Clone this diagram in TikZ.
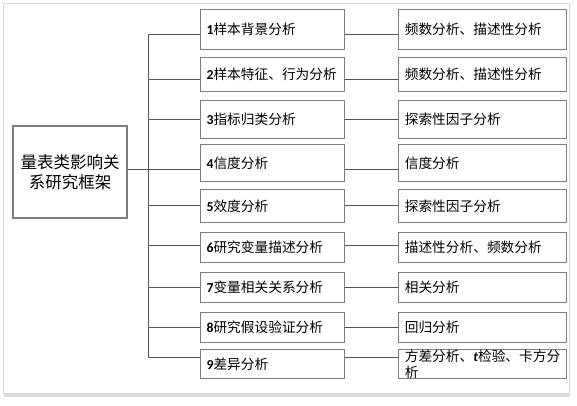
\documentclass[tikz,border=0pt]{standalone}
\usepackage{fontspec}
\setmainfont{Carlito}
\newfontfamily\cjk{Noto Sans CJK SC}
\definecolor{boxgray}{RGB}{125, 125, 125}
\definecolor{linegray}{RGB}{85, 85, 85}
\definecolor{framegray}{RGB}{215, 215, 215}
\usetikzlibrary{positioning, shadows}

\begin{document}
\begin{tikzpicture}[x=1pt, y=-1pt,
    frame/.style={draw=framegray, fill=white, line width=0.8pt,
                  drop shadow={shadow xshift=1pt, shadow yshift=-4pt, opacity=0.3}},
    root/.style={draw=boxgray, line width=1.2pt, align=center, text width=106pt,
                 minimum width=114pt, minimum height=92pt, inner sep=0pt,
                 font=\fontsize{16.5}{19.5}\selectfont\cjk},
    mid/.style={draw=boxgray, line width=1.2pt, anchor=north west, align=left,
                text width=132pt, minimum width=144pt, inner xsep=6pt, inner ysep=0pt,
                font=\fontsize{13.7}{16}\selectfont\cjk},
    res/.style={draw=boxgray, line width=1.2pt, align=left,
                text width=156pt, minimum width=168pt, inner xsep=6pt, inner ysep=0pt,
                font=\fontsize{13.7}{16}\selectfont\cjk},
    conn/.style={draw=linegray, line width=0.9pt},
    num/.style={}
  ]
    \useasboundingbox (0,0) rectangle (577,405);
    \path[frame] (3,3) rectangle (569,393);

    \node[root] (root) at (70,172) {量表类影响关\\系研究框架};

    \node[mid, minimum height=40pt] (m1) at (200,9)   {{\rmfamily\bfseries 1}样本背景分析};
    \node[mid, minimum height=34pt] (m2) at (200,57)  {{\rmfamily\bfseries 2}样本特征、行为分析};
    \node[mid, minimum height=38pt] (m3) at (200,100) {{\rmfamily\bfseries 3}指标归类分析};
    \node[mid, minimum height=37pt] (m4) at (200,144) {{\rmfamily\bfseries 4}信度分析};
    \node[mid, minimum height=33pt] (m5) at (200,189) {{\rmfamily\bfseries 5}效度分析};
    \node[mid, minimum height=30pt] (m6) at (200,232) {{\rmfamily\bfseries 6}研究变量描述分析};
    \node[mid, minimum height=30pt] (m7) at (200,272) {{\rmfamily\bfseries 7}变量相关关系分析};
    \node[mid, minimum height=30pt] (m8) at (200,312) {{\rmfamily\bfseries 8}研究假设验证分析};
    \node[mid, minimum height=29pt] (m9) at (200,349) {{\rmfamily\bfseries 9}差异分析};

    \node[res, minimum height=40pt, right=53pt of m1] (r1) {频数分析、描述性分析};
    \node[res, minimum height=34pt, right=53pt of m2] (r2) {频数分析、描述性分析};
    \node[res, minimum height=38pt, right=53pt of m3] (r3) {探索性因子分析};
    \node[res, minimum height=37pt, right=53pt of m4] (r4) {信度分析};
    \node[res, minimum height=33pt, right=53pt of m5] (r5) {探索性因子分析};
    \node[res, minimum height=30pt, right=53pt of m6] (r6) {描述性分析、频数分析};
    \node[res, minimum height=30pt, right=53pt of m7] (r7) {相关分析};
    \node[res, minimum height=30pt, right=53pt of m8] (r8) {回归分析};
    \node[res, minimum height=29pt, right=53pt of m9] (r9) {方差分析、{\rmfamily\bfseries\itshape t}检验、卡方分\\析};

    \coordinate (b1) at (148,34);
    \coordinate (b2) at (148,79);
    \coordinate (b3) at (148,119);
    \coordinate (b4) at (148,169);
    \coordinate (b5) at (148,205);
    \coordinate (b6) at (148,245);
    \coordinate (b7) at (148,287);
    \coordinate (b8) at (148,327);
    \coordinate (b9) at (148,357);

    \draw[conn] (b1) -- (b9);
    \draw[conn] (root.east |- b4) -- (b4 -| m4.west);
    \draw[conn] (b1) -- (b1 -| m1.west);
    \draw[conn] (b2) -- (b2 -| m2.west);
    \draw[conn] (b3) -- (b3 -| m3.west);
    \draw[conn] (b5) -- (b5 -| m5.west);
    \draw[conn] (b6) -- (b6 -| m6.west);
    \draw[conn] (b7) -- (b7 -| m7.west);
    \draw[conn] (b8) -- (b8 -| m8.west);
    \draw[conn] (b9) -- (b9 -| m9.west);

    \draw[conn] (m1.east |- b1) -- (b1 -| r1.west);
    \draw[conn] (m2.east |- b2) -- (b2 -| r2.west);
    \draw[conn] (m3.east |- b3) -- (b3 -| r3.west);
    \draw[conn] (m4.east |- b4) -- (b4 -| r4.west);
    \draw[conn] (m5.east |- b5) -- (b5 -| r5.west);
    \draw[conn] (m6.east |- b6) -- (b6 -| r6.west);
    \draw[conn] (m7.east |- b7) -- (b7 -| r7.west);
    \draw[conn] (m8.east |- b8) -- (b8 -| r8.west);
    \draw[conn] (m9.east |- b9) -- (b9 -| r9.west);
  \end{tikzpicture}
\end{document}
